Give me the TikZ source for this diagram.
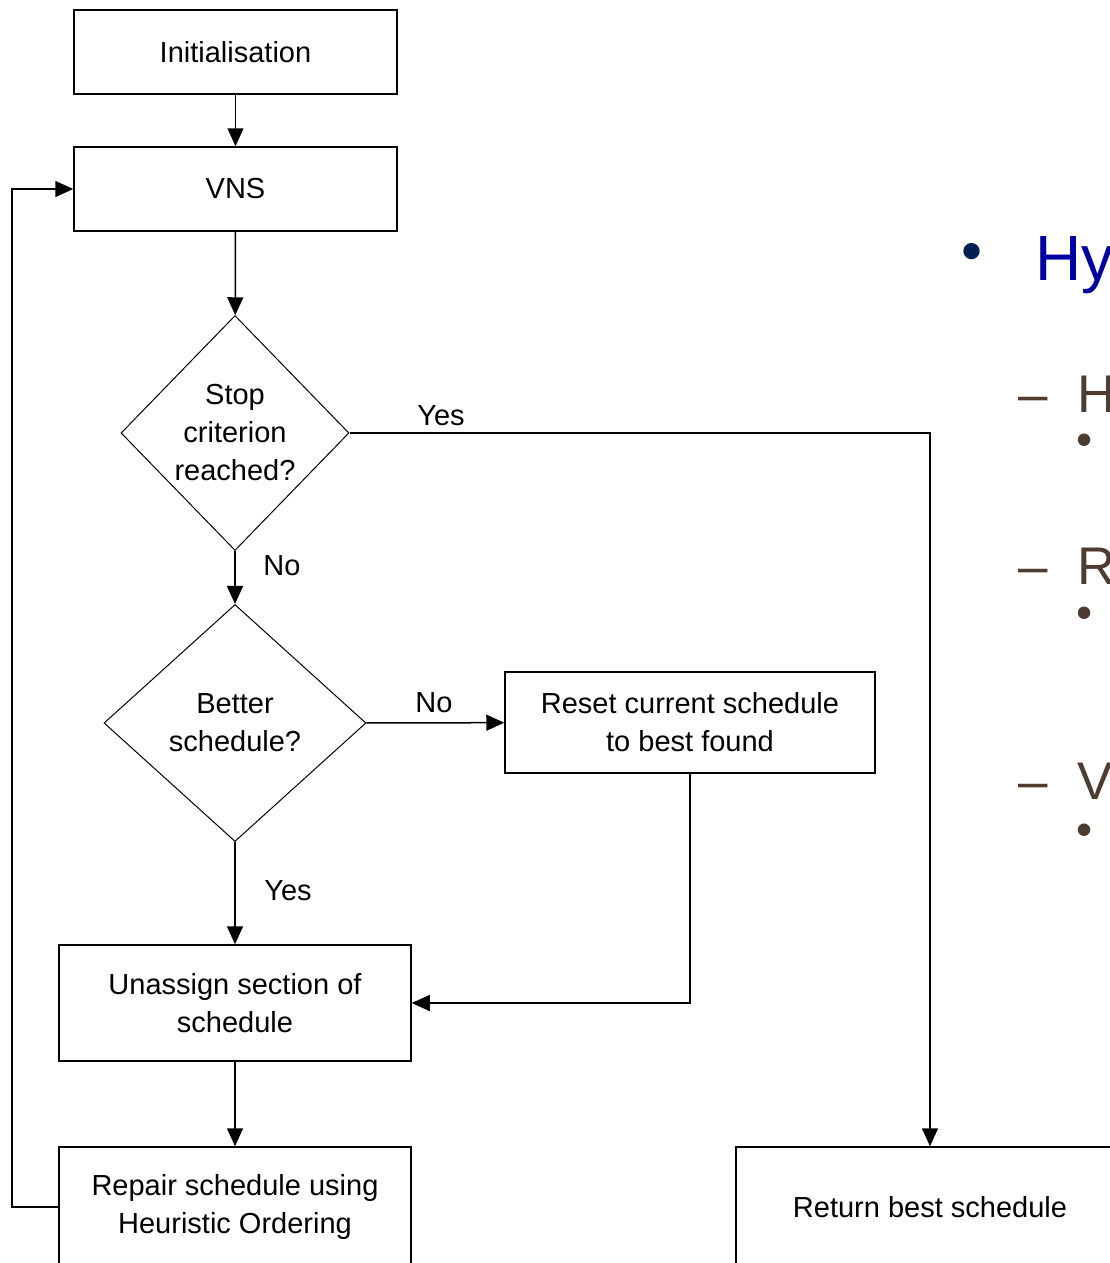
\documentclass[tikz,border=0pt]{standalone}
\usepackage{fontspec}
\setmainfont{Liberation Sans}
\usetikzlibrary{arrows.meta, positioning, shapes.geometric}

\definecolor{titleblue}{RGB}{0,0,160}
\definecolor{bulletnavy}{RGB}{0,32,80}
\definecolor{subbrown}{RGB}{77,60,50}

\begin{document}
\begin{tikzpicture}[
    x=1pt, y=-1pt,
    every node/.style={font=\fontsize{29}{38}\selectfont},
    box/.style={draw, line width=1.5pt, minimum width=323pt, minimum height=84pt, align=center, inner sep=0pt},
    decision/.style={draw, diamond, line width=1pt, align=center, inner sep=0pt},
    arrow/.style={-{Triangle[length=18pt, width=16pt]}, line width=1.5pt},
    label/.style={font=\fontsize{29}{38}\selectfont},
    sub/.style={text=subbrown, font=\fontsize{53}{53}\selectfont, anchor=base west, inner sep=0pt},
    subbullet/.style={text=subbrown, font=\fontsize{46}{46}\selectfont, inner sep=0pt}
]

\useasboundingbox (0,0) rectangle (1109,1263);

% ============ FLOWCHART ============
\node[box] (init) at (235.5,52) {Initialisation};
\node[box] (vns) at (235.5,189) {VNS};
\node[decision, minimum width=228pt, minimum height=235pt] (stop) at (235,433) {Stop\\criterion\\reached?};
\node[decision, minimum width=262pt, minimum height=237pt] (better) at (235,723) {Better\\schedule?};
\node[box, minimum width=370pt, minimum height=101pt] (reset) at (690,722.5) {Reset current schedule\\to best found};
\node[box, minimum width=352pt, minimum height=116pt] (unassign) at (235,1003) {Unassign section of\\schedule};
\node[box, minimum width=352pt, minimum height=120pt] (repair) at (235,1207) {Repair schedule using\\Heuristic Ordering};
\node[box, minimum width=388pt, minimum height=120pt] (ret) at (930,1207) {Return best schedule};

% Branch labels
\node[label] (yes1) at (441,416) {Yes};
\node[label] (no1) at (282,566) {No};
\node[label] (no2) at (434,703) {No};
\node[label] (yes2) at (288,891) {Yes};

% Connectors
\draw[arrow] (init) -- (vns);
\draw[arrow] (vns) -- (stop);
\draw[arrow] (stop) -- (better);
\draw[arrow] (stop.east) -| (ret.north);
\draw[arrow] (better) -- (reset);
\draw[arrow] (better) -- (unassign);
\draw[arrow] (reset.south) |- (unassign.east);
\draw[arrow] (unassign) -- (repair);

% Loop back to VNS
\coordinate (loopcorner) at (12,1206);
\draw[arrow] (repair.west) -- (repair.west -| loopcorner) |- (vns.west);

% ============ SLIDE TEXT (RIGHT) ============
\node[text=bulletnavy, font=\fontsize{60}{60}\selectfont, inner sep=0pt] (bul) at (972,257) {•};
\node[text=titleblue, font=\fontsize{64}{64}\selectfont, anchor=base west, inner sep=0pt] (hy) at (1035,280) {Hy};

\foreach \ly/\letter/\by [count=\i] in {412/H/445, 584/R/618, 799/V/835} {
    \node[sub] (dash\i) at (1018,\ly) {–};
    \node[sub] (item\i) at (1077,\ly) {\letter};
    \node[subbullet] (dot\i) at (1085,\by) {•};
}

\end{tikzpicture}
\end{document}
